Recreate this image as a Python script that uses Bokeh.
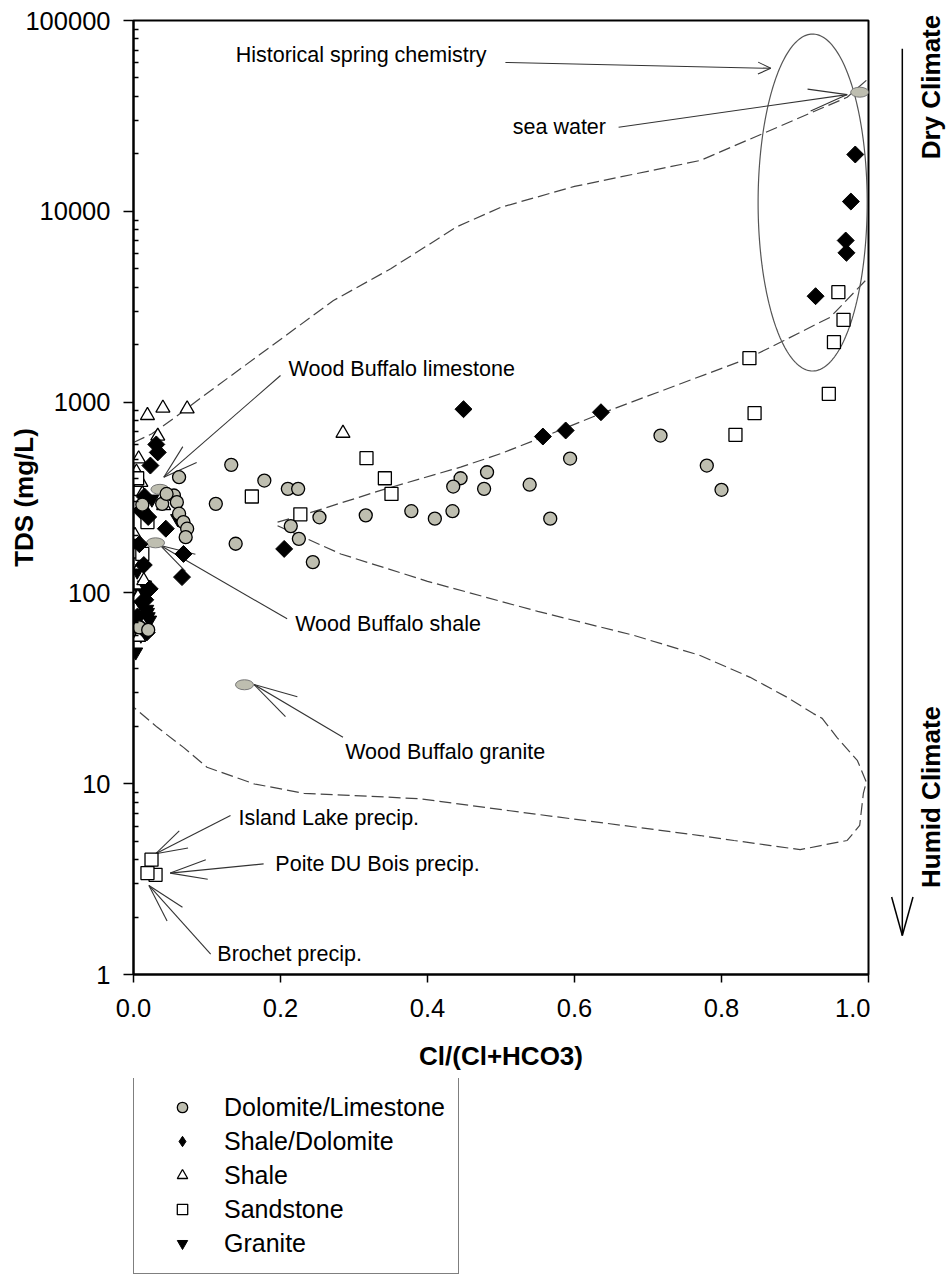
import math
import numpy as np
from bokeh.plotting import figure
from bokeh.layouts import row, column
from bokeh.models import (FixedTicker, PrintfTickFormatter, Legend, LegendItem,
                          Label, Range1d)
from bokeh.embed import file_html
from bokeh.resources import INLINE

FONT = "Liberation Sans"

# ---------------- data ----------------
dol_x = [0.133, 0.178, 0.112, 0.210, 0.224, 0.253, 0.214, 0.225, 0.139, 0.244, 0.316, 0.378,
         0.410, 0.434, 0.445, 0.435, 0.481, 0.477, 0.539, 0.567, 0.594, 0.717, 0.780, 0.800,
         0.062, 0.055, 0.059, 0.039, 0.062, 0.068, 0.073, 0.071, 0.045, 0.008, 0.020, 0.012]
dol_y = [469, 388, 293, 351, 351, 249, 224, 192, 181, 145, 255, 268,
         245, 268, 399, 361, 429, 351, 369, 245, 506, 668, 465, 347,
         404, 324, 299, 293, 260, 235, 217, 196, 330, 66, 64, 290]

sd_x = [0.449, 0.557, 0.588, 0.636, 0.205, 0.982, 0.976, 0.969, 0.970, 0.928,
        0.031, 0.033, 0.023, 0.044, 0.068, 0.066, 0.015, 0.010, 0.020, 0.008,
        0.014, 0.022, 0.012, 0.005, 0.018, 0.016, 0.006]
sd_y = [918, 660, 710, 885, 170, 19850, 11250, 7030, 6060, 3590,
        600, 545, 465, 217, 160, 121, 320, 270, 250, 180,
        140, 105, 90, 75, 62, 92, 68]

sh_x = [0.019, 0.040, 0.073, 0.033, 0.007, 0.285, 0.041, 0.000, 0.014, 0.007,
        0.004, 0.010, 0.012, 0.016, 0.003, 0.010, 0.006, 0.009, 0.002]
sh_y = [851, 930, 922, 663, 504, 687, 287, 196, 116, 58.6,
        430, 380, 330, 270, 160, 140, 95, 72, 200]

ss_x = [0.161, 0.317, 0.342, 0.351, 0.227, 0.959, 0.966, 0.953, 0.946, 0.845, 0.819, 0.838,
        0.005, 0.019, 0.0245, 0.030, 0.019, 0.004, 0.012]
ss_y = [320, 508, 399, 330, 258, 3770, 2700, 2060, 1105, 875, 674, 1700,
        399, 235, 4.0, 3.33, 3.40, 300, 160]

gr_x = [0.003, 0.019, 0.060, 0.010, 0.015, 0.005, 0.012, 0.020, 0.008, 0.025, 0.014,
        0.005, 0.012, 0.018, 0.008, 0.015, 0.022, 0.010]
gr_y = [49, 79, 245, 100, 110, 130, 85, 75, 160, 310, 290,
        95, 88, 82, 70, 66, 72, 60]

# reference waters (grey ellipses): sea water, WB limestone, WB shale, WB granite
ref_x = [0.988, 0.036, 0.030, 0.151]
ref_y = [42100, 349, 183, 33.0]

# mixing / envelope curves
upper_x = [0.0, 0.025, 0.057, 0.096, 0.272, 0.35, 0.44, 0.5, 0.6, 0.771, 0.971, 1.0]
upper_y = [614, 682, 834, 1083, 3406, 5000, 8300, 10500, 13500, 18460, 39600, 49700]

middle_x = [0.196, 0.236, 0.343, 0.445, 0.499, 0.557, 0.635, 0.835, 0.885, 0.948, 0.996]
middle_y = [235, 260, 351, 456, 536, 655, 868, 1686, 2103, 2786, 4340]

lower_x = [0.196, 0.282, 0.40, 0.55, 0.68, 0.771, 0.839, 0.889, 0.925, 0.937, 0.957, 0.985,
           0.997, 0.993, 0.988, 0.971, 0.935, 0.907, 0.867, 0.817, 0.771, 0.527, 0.390,
           0.300, 0.232, 0.164, 0.100, 0.068, 0.032, 0.0]
lower_y = [225, 160, 115, 80, 60, 47.0, 36.1, 28.4, 23.3, 22.0, 17.5, 13.2,
           10.2, 8.89, 6.04, 5.04, 4.74, 4.51, 4.74, 5.04, 5.35, 7.09, 8.34,
           8.67, 8.9, 9.98, 12.2, 15.5, 19.8, 25.2]

# historical spring chemistry envelope (centre x, half width x, centre log10 y, half height log10)
hist_cx, hist_rx, hist_clog, hist_rlog = 0.924, 0.0742, 4.046, 0.883

x_ticks = [0.0, 0.2, 0.4, 0.6, 0.8, 1.0]
y_ticks = [1, 10, 100, 1000, 10000, 100000]

series_names = ["Dolomite/Limestone", "Shale/Dolomite", "Shale", "Sandstone", "Granite"]

# callouts: text, text x, text y, tail x, tail y, tip x, tip y, head length px, head spread deg
callouts = [
    ("Historical spring chemistry", 0.139, 65600, 0.506, 60260, 0.867, 56150, 14, 25),
    ("sea water", 0.516, 27500, 0.660, 27600, 0.971, 40900, 40, 16),
    ("Wood Buffalo limestone", 0.211, 1500, 0.200, 1378, 0.0412, 404, 36, 17),
    ("Wood Buffalo shale", 0.220, 68.3, 0.209, 73.2, 0.0367, 177, 36, 16),
    ("Wood Buffalo granite", 0.288, 14.6, 0.285, 17.5, 0.164, 33.1, 45, 15),
    ("Island Lake precip.", 0.143, 6.65, 0.132, 6.81, 0.030, 4.29, 33, 17),
    ("Poite DU Bois precip.", 0.193, 3.80, 0.177, 3.80, 0.050, 3.40, 38, 15),
    ("Brochet precip.", 0.114, 1.28, 0.105, 1.28, 0.021, 2.93, 40, 15),
]

# climate arrow and labels (x in the main plot's x units, beyond 1.0)
arr_x, arr_top, arr_bot = 1.046, 71100, 1.60
climate_labels = [("Dry Climate", 1.0844, 44800), ("Humid Climate", 1.0844, 8.52)]

# ---------------- layout ----------------
W, H = 948, 1275
BL, BT, BB = 133, 20, 104
FW, FH = 735, 954
PW = BL + FW + 2          # main figure width (2 px right border for the outline)
PH = BT + FH + BB         # main figure height
LH = H - PH               # legend strip height
YDEC = FH / 5.0

p = figure(width=PW, height=PH, title=None, x_range=Range1d(0, 1), y_range=Range1d(1, 100000),
           y_axis_type="log", output_backend="svg", toolbar_location=None,
           min_border_left=BL, min_border_right=2, min_border_top=BT, min_border_bottom=BB)
p.background_fill_color = "white"
p.border_fill_color = "white"
p.xgrid.visible = False
p.ygrid.visible = False
p.outline_line_color = "black"
p.outline_line_width = 2

p.xaxis.ticker = FixedTicker(ticks=x_ticks, minor_ticks=[])
p.xaxis.formatter = PrintfTickFormatter(format="%.1f")
y_minor = [m * 10 ** k for k in range(5) for m in range(2, 10)]
p.yaxis.ticker = FixedTicker(ticks=y_ticks, minor_ticks=y_minor)
p.yaxis.formatter = PrintfTickFormatter(format="%d")

for ax in (p.xaxis[0], p.yaxis[0]):
    ax.axis_line_width = 2
    ax.axis_line_color = "black"
    ax.major_tick_line_color = "black"
    ax.major_tick_line_width = 1.5
    ax.minor_tick_line_color = "black"
    ax.minor_tick_line_width = 1.5
    ax.major_label_text_font = FONT
    ax.major_label_text_font_size = "25.5px"
    ax.major_label_text_color = "black"
    ax.axis_label_text_font = FONT
    ax.axis_label_text_font_size = "26px"
    ax.axis_label_text_font_style = "bold"
    ax.axis_label_text_color = "black"

p.xaxis.axis_label = "Cl/(Cl+HCO3)"
p.yaxis.axis_label = "TDS (mg/L)"
p.xaxis.major_tick_out = 8
p.xaxis.major_tick_in = 0
p.xaxis.major_label_standoff = 16
p.xaxis.axis_label_standoff = 21
p.yaxis.major_tick_out = 10
p.yaxis.major_tick_in = 0
p.yaxis.minor_tick_out = 0
p.yaxis.minor_tick_in = 5
p.yaxis.major_label_standoff = 13
p.yaxis.axis_label_standoff = -17

# ---------------- curves ----------------
dash = "12 5"
p.line(upper_x, upper_y, line_color="#444444", line_width=1.2, line_dash=dash)
p.line(middle_x, middle_y, line_color="#444444", line_width=1.2, line_dash=dash)
p.line(lower_x, lower_y, line_color="#444444", line_width=1.2, line_dash=dash)

t = np.linspace(0, 2 * np.pi, 240)
p.line(hist_cx + hist_rx * np.cos(t), 10 ** (hist_clog + hist_rlog * np.sin(t)),
       line_color="#555555", line_width=1.2)

# ---------------- callouts ----------------
def head(tip_x, tip_y, tail_x, tail_y, length, spread):
    dx = (tail_x - tip_x) * FW
    dy = (math.log10(tail_y) - math.log10(tip_y)) * YDEC
    ang = math.atan2(dy, dx)
    out = []
    for s in (1, -1):
        a = ang + s * math.radians(spread)
        ex = tip_x + length * math.cos(a) / FW
        ey = 10 ** (math.log10(tip_y) + length * math.sin(a) / YDEC)
        out.append(([tip_x, ex], [tip_y, ey]))
    return out

xs, ys = [], []
for (txt, lx, ly, sx, sy, ex, ey, hl, hs) in callouts:
    xs.append([sx, ex]); ys.append([sy, ey])
    for hx, hy in head(ex, ey, sx, sy, hl, hs):
        xs.append(hx); ys.append(hy)
    p.add_layout(Label(x=lx, y=ly, text=txt, text_font=FONT, text_font_size="21.5px",
                       text_align="left", text_baseline="middle", text_color="black"))
p.multi_line(xs, ys, line_color="#333333", line_width=1.1)

# ---------------- points ----------------
grey = "#BEBEB0"
styles = [
    dict(marker="circle", size=13, fill_color=grey, line_color="black", line_width=1.3),
    dict(marker="square", angle=math.pi / 4, size=12, fill_color="black", line_color="black", line_width=1),
    dict(marker="triangle", size=14, fill_color="white", line_color="black", line_width=1.3),
    dict(marker="square", size=13, fill_color="white", line_color="black", line_width=1.3),
    dict(marker="inverted_triangle", size=14, fill_color="black", line_color="black", line_width=1),
]
p.ellipse(ref_x, ref_y, width=18, height=10, width_units="screen", height_units="screen",
          fill_color=grey, line_color="#777777", line_width=1)
p.scatter(gr_x, gr_y, **styles[4])
p.scatter(sh_x, sh_y, **styles[2])
p.scatter(ss_x, ss_y, **styles[3])
p.scatter(sd_x, sd_y, **styles[1])
p.scatter(dol_x, dol_y, **styles[0])

# ---------------- right strip: climate arrow & labels ----------------
q = figure(width=W - PW, height=PH, title=None,
           x_range=Range1d(1 + 2 / FW, (W - BL) / FW),
           y_range=Range1d(10 ** (-BB / YDEC), 10 ** (5 + BT / YDEC)),
           y_axis_type="log", output_backend="svg", toolbar_location=None,
           x_axis_location=None, y_axis_location=None,
           min_border_left=0, min_border_right=0, min_border_top=0, min_border_bottom=0)
q.frame_align = False
q.xgrid.visible = False
q.ygrid.visible = False
q.outline_line_color = None
q.background_fill_color = "white"
q.border_fill_color = "white"

axs = [[arr_x, arr_x]]
ays = [[arr_top, arr_bot]]
for hx, hy in head(arr_x, arr_bot, arr_x, arr_top, 40, 15.5):
    axs.append(hx); ays.append(hy)
q.multi_line(axs, ays, line_color="black", line_width=1.5)
for txt, lx, ly in climate_labels:
    q.add_layout(Label(x=lx, y=ly, text=txt, angle=math.pi / 2, text_font=FONT,
                       text_font_size="26px", text_font_style="bold", text_align="center",
                       text_baseline="middle", text_color="black"))

# ---------------- legend strip ----------------
lg = figure(width=W, height=LH, title=None, x_range=Range1d(0, 1), y_range=Range1d(0, 1),
            output_backend="svg", toolbar_location=None,
            x_axis_location=None, y_axis_location=None,
            min_border_left=0, min_border_right=0, min_border_top=0, min_border_bottom=0)
lg.frame_align = False
lg.xgrid.visible = False
lg.ygrid.visible = False
lg.outline_line_color = None
lg.background_fill_color = "white"
lg.border_fill_color = "white"
# legend-only renderers (one point far outside the visible range); the legend
# does not rotate markers, so the Shale/Dolomite key uses the diamond marker
legend_styles = [dict(st) for st in styles]
legend_styles[1] = dict(marker="diamond", size=12, fill_color="black", line_color="black", line_width=1)
proxies = [lg.scatter([-10], [-10], **st) for st in legend_styles]
legend = Legend(items=[LegendItem(label=n, renderers=[r]) for n, r in zip(series_names, proxies)],
                location=(BL, 1))
legend.label_text_font = FONT
legend.label_text_font_size = "25px"
legend.label_text_color = "black"
legend.border_line_color = "black"
legend.border_line_width = 1
legend.background_fill_color = "white"
legend.background_fill_alpha = 1
legend.padding = 13
legend.spacing = 0
legend.margin = 0
legend.glyph_width = 70
legend.glyph_height = 26
legend.label_height = 34
legend.label_standoff = 7
lg.add_layout(legend)

layout = column(row(p, q, spacing=0), lg, spacing=0)
open("out.html", "w").write(file_html(layout, INLINE))
